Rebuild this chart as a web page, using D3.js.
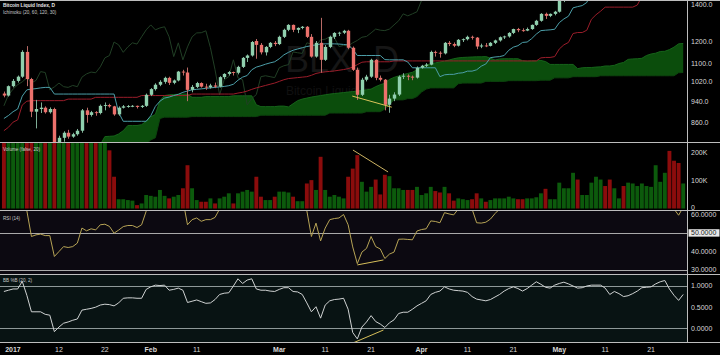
<!DOCTYPE html>
<html><head><meta charset="utf-8">
<script src="https://cdn.jsdelivr.net/npm/d3@7/dist/d3.min.js"></script>
<style>html,body{margin:0;padding:0;background:#000;overflow:hidden}svg{display:block}</style>
</head><body><svg id="c" width="720" height="355"></svg>
<script>
// ---------------- DATA ----------------
const startDate = "2016-12-31";
const open = [970,962,1000,1022,1040,1152,1030,900,910,915,898,910,785,808,825,812,820,832,905,888,898,895,922,925,920,890,915,920,921,922,918,922,965,988,1006,1018,1035,1014,1024,1062,1058,985,997,1013,998,995,1003,998,1038,1052,1060,1057,1083,1124,1135,1205,1186,1150,1176,1196,1190,1226,1262,1288,1262,1272,1278,1226,1130,1196,1115,1176,1226,1244,1247,1257,1172,1070,965,1027,1040,1115,1035,1027,926,950,966,1040,1044,1040,1036,1079,1088,1093,1152,1148,1145,1196,1190,1182,1211,1214,1226,1222,1178,1183,1181,1196,1208,1224,1228,1246,1266,1260,1258,1266,1288,1310,1348,1337,1348,1360,1425,1455,1490,1560,1530,1578,1596,1723,1756,1850,1820,1723,1776,1780,1737,1739,1806,1888,1987,2040,2085,2154,2273,2446,2305,2203,2038];
const high = [978,1003,1030,1045,1160,1180,1035,945,935,920,916,915,815,830,835,825,838,910,915,903,902,927,935,930,922,920,925,925,925,923,925,970,992,1012,1025,1040,1040,1028,1065,1070,1080,1005,1018,1016,1010,1010,1015,1042,1055,1065,1062,1088,1128,1140,1205,1215,1195,1180,1200,1205,1232,1268,1292,1290,1275,1282,1282,1240,1205,1326,1185,1232,1250,1252,1262,1262,1178,1080,1035,1048,1120,1118,1045,1030,965,975,1045,1055,1050,1045,1085,1092,1100,1158,1158,1155,1200,1205,1198,1215,1218,1232,1232,1225,1192,1195,1200,1212,1228,1232,1250,1268,1272,1270,1274,1290,1315,1352,1355,1350,1365,1435,1475,1500,1590,1600,1590,1625,1740,1790,1860,1875,1830,1790,1810,1785,1760,1840,1900,2000,2060,2120,2260,2290,2480,2760,2670,2260,2250];
const low = [955,958,995,1015,1035,1000,880,840,895,893,893,762,770,795,805,808,815,825,860,882,885,890,905,915,885,885,912,915,917,912,914,918,960,982,1000,1010,1005,1008,1020,1045,940,975,992,994,985,990,992,995,1030,1045,1045,1050,1078,1105,1130,1120,1140,1135,1170,1180,1185,1220,1255,1250,1245,1265,1220,1125,1125,1057,1110,1170,1215,1230,1240,1165,1065,945,960,1020,1035,1025,1020,905,896,940,960,1030,1025,1025,1032,1075,1082,1090,1130,1125,1140,1180,1175,1178,1200,1208,1212,1165,1170,1175,1178,1190,1202,1215,1222,1240,1250,1252,1255,1262,1283,1305,1320,1330,1340,1355,1415,1445,1480,1500,1525,1550,1590,1670,1740,1790,1680,1610,1745,1700,1700,1725,1790,1880,1970,2010,2060,2150,2270,2300,2100,1900,2030];
const close = [962,1000,1022,1040,1152,1030,900,910,915,898,910,785,808,825,812,820,832,905,888,898,895,922,925,920,890,915,920,921,922,918,922,965,988,1006,1018,1035,1014,1024,1062,1058,985,997,1013,998,995,1003,998,1038,1052,1060,1057,1083,1124,1135,1200,1186,1150,1176,1196,1190,1226,1262,1288,1262,1272,1278,1226,1130,1196,1115,1176,1226,1246,1247,1257,1172,1070,965,1027,1040,1115,1035,1027,926,950,966,1040,1044,1040,1036,1079,1088,1093,1152,1148,1145,1196,1190,1182,1211,1214,1226,1222,1178,1183,1181,1196,1208,1224,1228,1246,1266,1260,1258,1266,1288,1310,1348,1337,1348,1360,1425,1455,1490,1560,1530,1578,1596,1723,1756,1850,1820,1723,1776,1780,1737,1739,1806,1888,1987,2040,2085,2154,2273,2446,2305,2203,2038,2155];
const volumeK = [260,300,340,420,560,610,520,380,300,280,290,480,380,300,270,250,260,350,300,260,250,280,260,207,113,33,33,30,28,12,18,48,45,42,66,45,36,42,48,72,154,72,30,24,24,36,18,36,42,54,18,54,60,66,60,113,42,30,30,42,60,60,57,42,26,26,89,101,66,184,66,42,48,42,36,113,142,190,95,60,77,103,50,120,115,72,72,66,66,66,77,48,54,77,62,57,77,54,28,36,33,30,33,54,36,24,30,36,36,36,42,36,33,33,36,36,40,54,70,33,33,92,72,72,127,103,48,48,92,113,103,80,103,72,36,80,92,89,80,89,80,77,154,95,127,205,170,162,89];
const tenkan = [875,886,900,910,960,985,988,990,993,995,995,968,968,968,968,968,968,968,968,968,968,968,968,968,968,897,865,865,865,865,865,865,885,920,940,952,956,962,967,975,980,985,987,989,991,993,995,997,999,1002,1008,1025,1038,1045,1070,1082,1088,1095,1101,1106,1120,1138,1150,1160,1166,1172,1178,1182,1186,1190,1191,1191,1191,1190,1188,1186,1165,1135,1135,1135,1135,1135,1135,1116,1115,1115,1115,1115,1105,1079,1079,1079,1079,1079,1079,1040,1048,1050,1050,1055,1057,1064,1064,1070,1086,1096,1125,1128,1130,1135,1160,1175,1182,1198,1200,1217,1240,1258,1260,1262,1265,1300,1320,1335,1382,1389,1395,1413,1477,1506,1535,1562,1565,1566,1568,1579,1590,1597,1615,1670,1725,1767,1852,1885,1990,2150,2155,2175,2185];
const kijun = [832,844,862,870,925,940,942,942,942,942,942,942,942,942,948,948,948,948,948,948,955,955,955,955,955,955,955,955,955,955,962,962,962,962,962,962,962,962,962,962,962,968,968,968,968,968,968,968,968,968,968,972,975,980,987,993,998,1003,1008,1013,1020,1027,1032,1034,1036,1038,1040,1046,1054,1058,1061,1063,1065,1068,1071,1075,1082,1093,1104,1106,1106,1106,1106,1106,1106,1110,1110,1110,1110,1110,1110,1110,1110,1110,1110,1110,1110,1110,1110,1110,1110,1110,1110,1110,1110,1110,1110,1110,1110,1110,1110,1110,1110,1110,1110,1110,1110,1124,1126,1126,1130,1166,1186,1198,1243,1248,1248,1260,1318,1343,1363,1386,1386,1386,1386,1386,1386,1386,1398,1448,1495,1508,1578,1593,1710,1860,1892,1892,1892];
const spanA = [705,708,710,712,715,718,720,722,725,727,729,730,731,732,733,734,736,738,740,748,766,785,812,813,814,821,832,850,850,850,853,865,881,890,942,962,965,966,967,968,968,955,955,955,958,958,958,958,958,958,961,961,961,961,961,926,919,919,919,919,921,921,918,930,942,948,952,956,959,962,965,968,970,972,974,976,978,980,982,985,988,998,1006,1012,1028,1037,1043,1049,1054,1059,1070,1082,1091,1097,1101,1105,1109,1114,1120,1124,1126,1127,1128,1129,1129,1130,1123,1114,1119,1120,1120,1120,1120,1111,1108,1110,1110,1112,1107,1094,1094,1094,1094,1094,1094,1075,1079,1080,1080,1082,1083,1087,1087,1090,1098,1103,1117,1119,1120,1122,1135,1142,1146,1154,1155,1163,1175,1191,1193];
const spanB = [665,665,665,665,665,665,665,665,665,665,665,665,665,665,665,665,665,665,665,665,690,710,735,735,735,735,735,760,760,760,776,788,801,808,875,880,880,880,880,880,880,882,882,882,882,882,882,882,882,882,882,882,882,882,882,882,887,887,887,887,887,887,887,887,887,887,887,887,887,887,887,895,895,895,895,895,895,895,895,900,900,900,900,910,927,945,945,945,950,950,958,976,988,993,993,993,993,993,993,1010,1013,1013,1013,1013,1013,1020,1020,1020,1020,1020,1023,1023,1023,1023,1023,1023,1023,1025,1025,1025,1035,1035,1035,1035,1040,1040,1040,1040,1040,1040,1044,1044,1044,1044,1044,1044,1044,1044,1044,1044,1044,1044,1044,1044,1044,1044,1044,1057,1058];
const laggingShift = 30;
const rsi = [70,72,74,75,82,62,48,48.9,49.3,48.5,48.5,37.1,39.8,42.5,42,42.5,44.4,52.6,51.1,52.2,51.6,54.4,54.7,53.5,49.8,51.5,53.4,54,54,52.9,54.4,61.8,66,69,71,72,66,67,71,68,54.4,57.2,58.1,56.3,57.2,57.2,58.4,63,66,67,66,69,72,73,77,74,69,71,72,71,73,76,78,73,74,74,62,48,55.3,45.6,52.6,57.2,57.8,58.1,60,54.4,42.3,33.2,39.5,41.5,48,42.5,41.2,36,38.4,39.5,46.5,46.6,46.4,46.2,51,51.8,52.2,56.5,56.2,55.5,61,60.3,59.8,63,65,66,63,55.5,55.3,55.8,57.5,60.5,63,64,67,69,68,68,68,71,74,78,76,77,78,82,84,85,87,85,86,86,89,89,90,88,76,78,78,74,74,77,80,83,85,83,85,87,89,78,63,59.6,64];
const pctB = [0.87,0.9,0.93,0.93,1.11,0.78,0.39,0.39,0.39,0.33,0.31,-0.08,0.03,0.12,0.15,0.19,0.22,0.43,0.45,0.47,0.5,0.55,0.57,0.56,0.53,0.6,0.71,0.72,0.72,0.71,0.71,0.92,0.98,1.02,1.01,1.02,0.9,0.92,0.95,0.9,0.61,0.64,0.67,0.63,0.59,0.6,0.68,0.8,0.83,0.84,1.0,1.17,1.06,1.14,1.17,0.93,0.9,0.9,0.88,0.87,0.92,0.96,0.96,0.87,0.86,0.8,0.6,0.39,0.51,0.24,0.55,0.65,0.68,0.69,0.71,0.45,-0.1,-0.25,0.03,0.15,0.3,0.16,0.1,0.02,0.13,0.2,0.35,0.38,0.38,0.45,0.53,0.59,0.65,0.8,0.85,0.88,0.98,0.93,0.9,0.89,0.88,0.85,0.75,0.69,0.67,0.65,0.68,0.74,0.8,0.88,0.94,0.98,0.94,0.88,0.94,1.02,1.1,1.04,0.97,0.95,1.02,1.06,1.09,1.05,1.0,0.95,0.96,1.0,1.02,1.02,1.02,0.95,0.8,0.87,0.82,0.75,0.77,0.82,0.88,0.96,0.97,0.98,1.05,1.1,1.13,0.93,0.78,0.66,0.8];
const priceTicks = [1400,1200,1100,1020,940,860];
const volumeTicks = [200,100,0];
const rsiTicks = [60,50,40,30];
const rsiLines = [50,30];
const pctBTicks = [1,0.5,0];
const pctBLines = [1,0];
const dateTicks = ["2017-01-01","2017-01-12","2017-01-22","2017-02-01","2017-02-11","2017-03-01","2017-03-11","2017-03-21","2017-04-01","2017-04-11","2017-04-21","2017-05-01","2017-05-11","2017-05-21"];
const dateTickLabels = ["2017","12","22","Feb","11","Mar","11","21","Apr","11","21","May","11","21"];
const dateTickBold = [true,false,false,true,false,true,false,false,true,false,false,true,false,false];
// divergence annotations: [day index, value]
const trendPrice = [[75.9,960],[84.5,917]];
const trendVolume = [[76.05,208],[83.7,130]];
const trendRsi = [[77,32.5],[82.7,35.2]];
const trendPctB = [[76.2,-0.34],[82.7,-0.04]];

// ---------------- LAYOUT ----------------
const W = 720, H = 355, plotR = 687;
const P = {price:[0,142.5], vol:[142.5,210.5], rsi:[210.5,274.3], pb:[274.3,342.5]};
const FONT = "'Liberation Sans', Arial, sans-serif";
const svg = d3.select("#c");
const N = close.length;
const x = d3.scaleLinear().domain([0, N-1]).range([3.9, 683.2]);
const yP = d3.scaleLog().domain([860,1400]).range([122.7,4.7]);
const yV = d3.scaleLinear().domain([0,200]).range([208.5,152.3]);
const yR = d3.scaleLinear().domain([30,60]).range([269.5,214.5]);
const yB = d3.scaleLinear().domain([0,1]).range([328.3,286]);
const idx = d3.range(N);

const defs = svg.append("defs");
function clip(id, y0, y1){
  defs.append("clipPath").attr("id",id).append("rect").attr("x",0).attr("y",y0).attr("width",plotR).attr("height",y1-y0);
}
clip("cpP",P.price[0],P.price[1]); clip("cpV",P.vol[0],P.vol[1]); clip("cpR",P.rsi[0],P.rsi[1]); clip("cpB",P.pb[0],P.pb[1]);

// backgrounds
svg.append("rect").attr("width",W).attr("height",H).attr("fill","#000");
svg.append("rect").attr("x",0).attr("y",P.rsi[0]).attr("width",plotR).attr("height",P.rsi[1]-P.rsi[0]).attr("fill","#0c0911");
svg.append("rect").attr("x",0).attr("y",P.pb[0]).attr("width",plotR).attr("height",P.pb[1]-P.pb[0]).attr("fill","#081313");

// ---------------- PRICE PANE ----------------
const gP = svg.append("g").attr("clip-path","url(#cpP)");
gP.append("text").attr("x",342).attr("y",72).attr("text-anchor","middle").attr("font-family",FONT)
  .attr("font-size",36).attr("fill","#161616").text("BLX, D");
gP.append("text").attr("x",338).attr("y",95).attr("text-anchor","middle").attr("font-family",FONT)
  .attr("font-size",12).attr("fill","#101010").text("Bitcoin Liquid Index");

gP.append("path").datum(idx)
  .attr("d", d3.area().x(i=>x(i)).y0(i=>yP(spanB[i])).y1(i=>yP(spanA[i])))
  .attr("fill","#0b4d0c");
gP.append("path").datum(idx).attr("d", d3.line().x(i=>x(i)).y(i=>yP(spanA[i])))
  .attr("fill","none").attr("stroke","#16631a").attr("stroke-width",1);
gP.append("path").datum(idx).attr("d", d3.line().x(i=>x(i)).y(i=>yP(spanB[i])))
  .attr("fill","none").attr("stroke","#0d430e").attr("stroke-width",1);

const lagIdx = d3.range(0, N - laggingShift);
gP.append("path").datum(lagIdx).attr("d", d3.line().x(i=>x(i)).y(i=>yP(close[i+laggingShift])))
  .attr("fill","none").attr("stroke","#213f25").attr("stroke-width",1);
gP.append("path").datum(idx).attr("d", d3.line().x(i=>x(i)).y(i=>yP(kijun[i])))
  .attr("fill","none").attr("stroke","#9a1d2a").attr("stroke-width",1);
gP.append("path").datum(idx).attr("d", d3.line().x(i=>x(i)).y(i=>yP(tenkan[i])))
  .attr("fill","none").attr("stroke","#4c9ea8").attr("stroke-width",1);

const up = i => close[i] >= open[i];
gP.append("g").selectAll("line").data(idx).join("line")
  .attr("x1",i=>Math.round(x(i))+0.5).attr("x2",i=>Math.round(x(i))+0.5)
  .attr("y1",i=>yP(high[i])).attr("y2",i=>yP(low[i]))
  .attr("stroke",i=>up(i)?"#7fae97":"#b86a66").attr("stroke-width",1);
gP.append("g").selectAll("rect").data(idx).join("rect")
  .attr("x",i=>Math.round(x(i))+0.5-1.7).attr("width",3.4)
  .attr("y",i=>yP(Math.max(open[i],close[i])))
  .attr("height",i=>Math.max(0.9, Math.abs(yP(open[i])-yP(close[i]))))
  .attr("fill",i=>up(i)?"#90d0ae":"#ec716c");

gP.append("path").datum(trendPrice).attr("d", d3.line().x(d=>x(d[0])).y(d=>yP(d[1])))
  .attr("stroke","#dcc45a").attr("stroke-width",1).attr("fill","none");

// ---------------- VOLUME PANE ----------------
const gV = svg.append("g").attr("clip-path","url(#cpV)");
gV.append("g").selectAll("rect").data(idx).join("rect")
  .attr("x",i=>x(i)-1.95).attr("width",3.9)
  .attr("y",i=>yV(volumeK[i])).attr("height",i=>yV(0)-yV(volumeK[i]))
  .attr("fill",i=>up(i)?"#0c5a0c":"#8b0c0c");
gV.append("path").datum(trendVolume).attr("d", d3.line().x(d=>x(d[0])).y(d=>yV(d[1])))
  .attr("stroke","#cdb463").attr("stroke-width",1).attr("fill","none");

// ---------------- RSI PANE ----------------
const gR = svg.append("g").attr("clip-path","url(#cpR)");
gR.selectAll("line.h").data(rsiLines).join("line").attr("class","h")
  .attr("x1",0).attr("x2",plotR).attr("y1",d=>Math.round(yR(d))+0.5).attr("y2",d=>Math.round(yR(d))+0.5)
  .attr("stroke","#a9a9a9").attr("stroke-width",1);
gR.append("path").datum(idx).attr("d", d3.line().x(i=>x(i)).y(i=>yR(rsi[i])))
  .attr("fill","none").attr("stroke","#b7a456").attr("stroke-width",1);
gR.append("path").datum(trendRsi).attr("d", d3.line().x(d=>x(d[0])).y(d=>yR(d[1])))
  .attr("stroke","#d6bf5a").attr("stroke-width",1).attr("fill","none");

// ---------------- %B PANE ----------------
const gB = svg.append("g").attr("clip-path","url(#cpB)");
gB.selectAll("line.h").data(pctBLines).join("line").attr("class","h")
  .attr("x1",0).attr("x2",plotR).attr("y1",d=>Math.round(yB(d))+0.5).attr("y2",d=>Math.round(yB(d))+0.5)
  .attr("stroke","#8e9898").attr("stroke-width",1);
gB.append("path").datum(idx).attr("d", d3.line().x(i=>x(i)).y(i=>yB(pctB[i])))
  .attr("fill","none").attr("stroke","#cfd2d2").attr("stroke-width",1);
gB.append("path").datum(trendPctB).attr("d", d3.line().x(d=>x(d[0])).y(d=>yB(d[1])))
  .attr("stroke","#d6bf5a").attr("stroke-width",1).attr("fill","none");

// ---------------- SEPARATORS ----------------
[0.5, 142.5, 210.5, 274.5, 342.5].forEach(y=>{
  svg.append("line").attr("x1",0).attr("x2",W).attr("y1",y).attr("y2",y).attr("stroke","#bdbdbd").attr("stroke-width",1);
});
svg.append("line").attr("x1",plotR+0.5).attr("x2",plotR+0.5).attr("y1",0).attr("y2",342.5).attr("stroke","#bdbdbd").attr("stroke-width",1);

// ---------------- AXIS LABELS ----------------
const axT = (y, t) => svg.append("text").attr("x",691).attr("y",y).attr("dy","0.35em")
  .attr("font-family",FONT).attr("font-size",7).attr("fill","#d8d8d8").text(t);
priceTicks.forEach(v=>axT(yP(v), d3.format(".1f")(v)));
volumeTicks.forEach(v=>axT(Math.min(yV(v),207.5), v===0?"0":v+"K"));
rsiTicks.forEach(v=>{
  if(v===50){
    svg.append("rect").attr("x",688.5).attr("y",yR(v)-3.6).attr("width",31).attr("height",7.4).attr("fill","#e9e9e9");
    svg.append("text").attr("x",691).attr("y",yR(v)).attr("dy","0.35em").attr("font-family",FONT)
      .attr("font-size",7).attr("fill","#222").text(d3.format(".4f")(v));
  } else axT(yR(v), d3.format(".4f")(v));
});
pctBTicks.forEach(v=>axT(yB(v), d3.format(".4f")(v)));

// date axis
const parse = d3.utcParse("%Y-%m-%d");
const d0 = parse(startDate);
dateTicks.forEach((s,k)=>{
  const di = d3.utcDay.count(d0, parse(s));
  svg.append("text").attr("x", k===0 ? x(di)+4.5 : x(di)).attr("y",351.5).attr("text-anchor","middle")
    .attr("font-family",FONT).attr("font-size",7).attr("font-weight",dateTickBold[k]?"bold":"normal")
    .attr("fill","#d8d8d8").text(dateTickLabels[k]);
});

// pane titles
const title = (y, t, fs, col, bold) => svg.append("text").attr("x",3).attr("y",y).attr("font-family",FONT)
  .attr("font-size",fs).attr("font-weight",bold?"bold":"normal").attr("fill",col).text(t);
title(7.4, "Bitcoin Liquid Index, D", 4.8, "#e6e6e6", true);
title(14.2, "Ichimoku (20, 60, 120, 30)", 4.6, "#c8c8c8", false);
title(150.6, "Volume (false, 20)", 4.6, "#c8c8c8", false);
title(220.2, "RSI (14)", 4.6, "#c8c8c8", false);
title(282.3, "BB %B (20, 2)", 4.6, "#c8c8c8", false);
</script></body></html>
